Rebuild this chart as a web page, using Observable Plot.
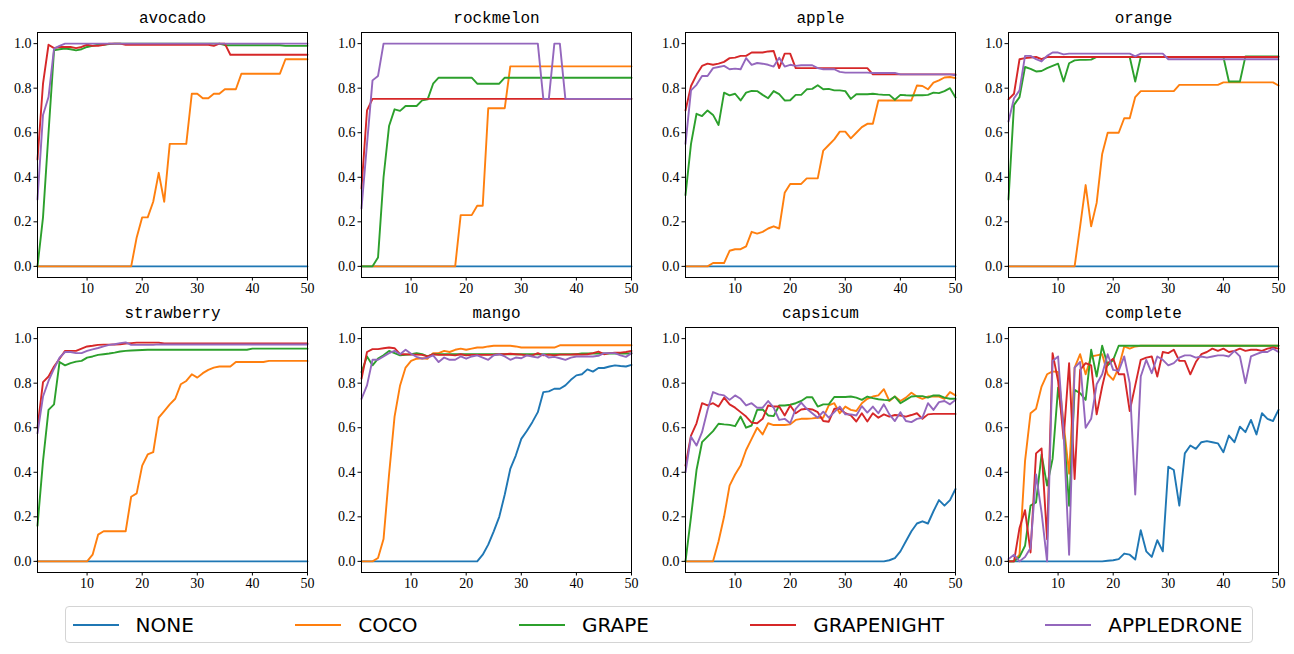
<!DOCTYPE html>
<html><head><meta charset="utf-8">
<script src="https://cdn.jsdelivr.net/npm/d3@7"></script>
<script src="https://cdn.jsdelivr.net/npm/@observablehq/plot@0.6"></script>
<style>
body{margin:0;background:#fff;width:1294px;height:654px;position:relative;overflow:hidden;}
.panel{position:absolute;}
.panel svg{overflow:visible;}
#legend{position:absolute;left:64.5px;top:606px;width:1188px;height:37px;box-sizing:border-box;border:1px solid #d4d4d4;border-radius:4px;display:flex;justify-content:space-between;align-items:center;padding:0 9px 0 7px;font-family:"DejaVu Sans";font-size:20px;color:#000;}
.item{display:flex;align-items:center;}
.sw{display:inline-block;width:46px;height:2px;margin-right:17px;}
</style></head><body>
<div id="legend"></div>
<script>
const series = ["NONE", "COCO", "GRAPE", "GRAPENIGHT", "APPLEDRONE"];
const colors = ["#1f77b4", "#ff7f0e", "#2ca02c", "#d62728", "#9467bd"];
const panelNames = ["avocado", "rockmelon", "apple", "orange", "strawberry", "mango", "capsicum", "complete"];
const xTicks = [10, 20, 30, 40, 50];
const yTicks = [0, 0.2, 0.4, 0.6, 0.8, 1.0];
const epochs = d3.range(1, 51);

const ZEROS = [0,0,0,0,0,0,0,0,0,0, 0,0,0,0,0,0,0,0,0,0, 0,0,0,0,0,0,0,0,0,0, 0,0,0,0,0,0,0,0,0,0, 0,0,0,0,0,0,0,0,0,0];

const avocado = [
  ZEROS,
  [0,0,0,0,0,0,0,0,0,0, 0,0,0,0,0,0,0,0,0.13,0.22, 0.22,0.29,0.42,0.29,0.55,0.55,0.55,0.55,0.775,0.775, 0.755,0.755,0.775,0.775,0.795,0.795,0.795,0.865,0.865,0.865, 0.865,0.865,0.865,0.865,0.865,0.93,0.93,0.93,0.93,0.93],
  [0,0.22,0.6,0.97,0.975,0.978,0.975,0.97,0.975,0.985, 0.99,0.995,0.995,0.998,1,1,1,1,1,1, 1,1,1,1,1,1,1,1,1,1, 1,1,1,1,0.993,0.993,0.993,0.993,0.993,0.993, 0.993,0.993,0.993,0.993,0.993,0.99,0.99,0.99,0.99,0.99],
  [0.48,0.82,0.995,0.98,0.985,0.985,0.985,0.98,0.985,0.995, 0.99,0.99,0.995,1,1,1,0.995,0.995,0.995,0.995, 0.995,0.995,0.995,0.995,0.995,0.995,0.995,0.995,0.995,0.995, 0.995,0.995,0.99,1,1,0.95,0.95,0.95,0.95,0.95, 0.95,0.95,0.95,0.95,0.95,0.95,0.95,0.95,0.95,0.95],
  [0.3,0.68,0.76,0.978,0.99,1,1,1,1,1, 1,1,1,1,1,1,1,1,1,1, 1,1,1,1,1,1,1,1,1,1, 1,1,1,1,1,1,1,1,1,1, 1,1,1,1,1,1,1,1,1,1]
];

const rockmelon = [
  ZEROS,
  [0,0,0,0,0,0,0,0,0,0, 0,0,0,0,0,0,0,0,0.23,0.23, 0.23,0.272,0.272,0.71,0.71,0.71,0.71,0.898,0.898,0.898, 0.898,0.898,0.898,0.898,0.898,0.898,0.898,0.898,0.898,0.898, 0.898,0.898,0.898,0.898,0.898,0.898,0.898,0.898,0.898,0.898],
  [0,0,0,0.04,0.4,0.63,0.705,0.698,0.72,0.72, 0.72,0.745,0.75,0.82,0.847,0.847,0.847,0.847,0.847,0.847, 0.847,0.82,0.82,0.82,0.82,0.82,0.847,0.847,0.847,0.847, 0.847,0.847,0.847,0.847,0.847,0.847,0.847,0.847,0.847,0.847, 0.847,0.847,0.847,0.847,0.847,0.847,0.847,0.847,0.847,0.847],
  [0.35,0.7,0.752,0.752,0.752,0.752,0.752,0.752,0.752,0.752, 0.752,0.752,0.752,0.752,0.752,0.752,0.752,0.752,0.752,0.752, 0.752,0.752,0.752,0.752,0.752,0.752,0.752,0.752,0.752,0.752, 0.752,0.752,0.752,0.752,0.752,0.752,0.752,0.752,0.752,0.752, 0.752,0.752,0.752,0.752,0.752,0.752,0.752,0.752,0.752,0.752],
  [0.26,0.55,0.835,0.855,1,1,1,1,1,1, 1,1,1,1,1,1,1,1,1,1, 1,1,1,1,1,1,1,1,1,1, 1,1,1,0.752,0.752,1,1,0.752,0.752,0.752, 0.752,0.752,0.752,0.752,0.752,0.752,0.752,0.752,0.752,0.752]
];

const apple = [
  ZEROS,
  [0,0,0,0,0,0.015,0.015,0.015,0.07,0.077, 0.077,0.09,0.155,0.147,0.155,0.17,0.18,0.17,0.33,0.37, 0.37,0.37,0.395,0.395,0.395,0.52,0.545,0.57,0.605,0.605, 0.575,0.6,0.625,0.64,0.64,0.745,0.745,0.745,0.745,0.745, 0.745,0.745,0.812,0.81,0.795,0.825,0.835,0.848,0.85,0.845],
  [0.32,0.55,0.685,0.675,0.7,0.68,0.635,0.78,0.768,0.775, 0.745,0.78,0.788,0.787,0.77,0.755,0.787,0.773,0.745,0.746, 0.77,0.77,0.795,0.797,0.813,0.795,0.797,0.79,0.79,0.787, 0.752,0.773,0.773,0.773,0.775,0.772,0.77,0.77,0.748,0.77, 0.768,0.767,0.768,0.768,0.77,0.78,0.778,0.787,0.8,0.758],
  [0.7,0.81,0.86,0.9,0.91,0.905,0.91,0.918,0.935,0.937, 0.945,0.945,0.96,0.96,0.96,0.965,0.967,0.89,0.955,0.955, 0.89,0.89,0.89,0.89,0.89,0.89,0.89,0.89,0.89,0.89, 0.89,0.89,0.89,0.89,0.862,0.862,0.862,0.862,0.862,0.862, 0.862,0.862,0.862,0.862,0.862,0.862,0.862,0.862,0.862,0.862],
  [0.55,0.79,0.815,0.855,0.855,0.89,0.895,0.9,0.885,0.888, 0.885,0.935,0.905,0.913,0.91,0.905,0.897,0.937,0.897,0.905, 0.9,0.903,0.903,0.903,0.89,0.885,0.885,0.885,0.873,0.87, 0.87,0.87,0.87,0.87,0.868,0.868,0.868,0.868,0.868,0.862, 0.862,0.862,0.862,0.862,0.862,0.862,0.862,0.862,0.862,0.858]
];

const orange = [
  ZEROS,
  [0,0,0,0,0,0,0,0,0,0, 0,0,0,0.18,0.365,0.18,0.285,0.505,0.6,0.6, 0.6,0.665,0.665,0.76,0.787,0.787,0.787,0.787,0.787,0.787, 0.787,0.815,0.815,0.815,0.815,0.815,0.815,0.815,0.815,0.826, 0.826,0.826,0.826,0.826,0.826,0.826,0.826,0.826,0.826,0.812],
  [0.3,0.725,0.76,0.895,0.887,0.875,0.877,0.89,0.9,0.91, 0.83,0.912,0.925,0.927,0.927,0.928,0.94,0.94,0.94,0.94, 0.94,0.94,0.94,0.83,0.94,0.94,0.94,0.94,0.94,0.94, 0.94,0.94,0.94,0.94,0.94,0.94,0.94,0.94,0.94,0.94, 0.83,0.83,0.83,0.943,0.943,0.943,0.943,0.943,0.943,0.943],
  [0.75,0.775,0.93,0.935,0.938,0.94,0.93,0.94,0.94,0.94, 0.94,0.94,0.94,0.94,0.94,0.94,0.94,0.94,0.94,0.94, 0.94,0.94,0.94,0.94,0.94,0.94,0.94,0.94,0.94,0.94, 0.94,0.94,0.94,0.94,0.94,0.94,0.94,0.94,0.94,0.94, 0.94,0.94,0.94,0.94,0.94,0.94,0.94,0.94,0.94,0.94],
  [0.65,0.755,0.79,0.945,0.945,0.93,0.92,0.945,0.96,0.96, 0.952,0.955,0.955,0.955,0.955,0.955,0.955,0.955,0.955,0.955, 0.955,0.955,0.955,0.943,0.955,0.955,0.955,0.955,0.955,0.93, 0.93,0.93,0.93,0.93,0.93,0.93,0.93,0.93,0.93,0.93, 0.93,0.93,0.93,0.93,0.93,0.93,0.93,0.93,0.93,0.93]
];

const strawberry = [
  ZEROS,
  [0,0,0,0,0,0,0,0,0,0, 0.03,0.12,0.135,0.135,0.135,0.135,0.135,0.29,0.305,0.43, 0.48,0.49,0.645,0.675,0.705,0.73,0.795,0.81,0.84,0.825, 0.845,0.86,0.87,0.875,0.875,0.875,0.895,0.895,0.895,0.895, 0.895,0.895,0.9,0.9,0.9,0.9,0.9,0.9,0.9,0.9],
  [0.16,0.45,0.68,0.705,0.895,0.88,0.89,0.897,0.9,0.915, 0.92,0.927,0.93,0.933,0.937,0.942,0.945,0.947,0.948,0.949, 0.95,0.95,0.95,0.95,0.95,0.95,0.95,0.95,0.95,0.95, 0.95,0.95,0.95,0.95,0.95,0.95,0.95,0.95,0.95,0.955, 0.955,0.955,0.955,0.955,0.955,0.955,0.955,0.955,0.955,0.955],
  [0.6,0.805,0.83,0.875,0.91,0.945,0.945,0.945,0.955,0.965, 0.968,0.972,0.973,0.973,0.974,0.975,0.978,0.98,0.982,0.982, 0.982,0.982,0.982,0.978,0.978,0.978,0.978,0.978,0.978,0.978, 0.978,0.978,0.978,0.978,0.978,0.978,0.978,0.978,0.978,0.978, 0.978,0.978,0.978,0.978,0.978,0.978,0.978,0.978,0.978,0.978],
  [0.575,0.74,0.81,0.865,0.915,0.94,0.94,0.935,0.935,0.945, 0.952,0.958,0.965,0.972,0.975,0.98,0.983,0.972,0.972,0.972, 0.972,0.972,0.974,0.974,0.974,0.974,0.974,0.974,0.974,0.974, 0.974,0.974,0.974,0.974,0.974,0.974,0.974,0.974,0.974,0.974, 0.974,0.974,0.974,0.974,0.974,0.974,0.974,0.974,0.974,0.974]
];

const mango = [
  [0,0,0,0,0,0,0,0,0,0, 0,0,0,0,0,0,0,0,0,0, 0,0,0.03,0.075,0.135,0.2,0.3,0.415,0.475,0.55, 0.585,0.625,0.67,0.76,0.763,0.775,0.775,0.79,0.815,0.835, 0.84,0.862,0.852,0.868,0.868,0.875,0.88,0.877,0.875,0.882],
  [0,0,0,0.015,0.1,0.39,0.65,0.79,0.87,0.9, 0.91,0.912,0.91,0.935,0.935,0.945,0.94,0.95,0.955,0.95, 0.955,0.96,0.96,0.965,0.968,0.968,0.968,0.968,0.965,0.96, 0.96,0.96,0.96,0.96,0.96,0.96,0.97,0.97,0.97,0.97, 0.97,0.97,0.97,0.97,0.97,0.97,0.97,0.97,0.97,0.97],
  [0.85,0.92,0.88,0.91,0.925,0.945,0.935,0.925,0.927,0.93, 0.935,0.93,0.92,0.93,0.93,0.93,0.93,0.93,0.93,0.93, 0.93,0.93,0.93,0.93,0.93,0.93,0.93,0.93,0.93,0.93, 0.93,0.93,0.93,0.93,0.93,0.93,0.93,0.93,0.93,0.93, 0.933,0.933,0.933,0.933,0.933,0.933,0.933,0.933,0.933,0.933],
  [0.82,0.94,0.953,0.953,0.957,0.96,0.957,0.93,0.93,0.928, 0.928,0.927,0.92,0.93,0.927,0.927,0.927,0.925,0.93,0.925, 0.927,0.927,0.927,0.927,0.928,0.93,0.93,0.932,0.93,0.928, 0.925,0.925,0.935,0.925,0.928,0.925,0.928,0.928,0.928,0.93, 0.928,0.93,0.935,0.942,0.93,0.935,0.937,0.937,0.94,0.945],
  [0.73,0.79,0.905,0.905,0.92,0.935,0.945,0.93,0.95,0.932, 0.918,0.91,0.915,0.925,0.895,0.915,0.905,0.905,0.92,0.91, 0.92,0.925,0.915,0.905,0.925,0.93,0.92,0.905,0.915,0.912, 0.925,0.92,0.915,0.93,0.915,0.918,0.912,0.905,0.915,0.92, 0.92,0.92,0.92,0.923,0.935,0.935,0.935,0.925,0.918,0.935]
];

const capsicum = [
  [0,0,0,0,0,0,0,0,0,0, 0,0,0,0,0,0,0,0,0,0, 0,0,0,0,0,0,0,0,0,0, 0,0,0,0,0,0,0,0.005,0.015,0.045, 0.09,0.135,0.17,0.18,0.17,0.225,0.275,0.25,0.275,0.325],
  [0,0,0,0,0,0,0.09,0.2,0.34,0.39, 0.43,0.5,0.55,0.6,0.57,0.62,0.612,0.612,0.612,0.615, 0.635,0.64,0.64,0.642,0.645,0.645,0.7,0.71,0.665,0.695, 0.68,0.675,0.71,0.73,0.74,0.745,0.773,0.72,0.74,0.72, 0.735,0.757,0.74,0.73,0.74,0.74,0.74,0.73,0.76,0.745],
  [0,0.2,0.41,0.535,0.56,0.585,0.618,0.615,0.613,0.607, 0.65,0.6,0.61,0.68,0.682,0.655,0.652,0.7,0.7,0.703, 0.71,0.72,0.737,0.737,0.695,0.705,0.705,0.738,0.738,0.738, 0.74,0.735,0.725,0.74,0.733,0.728,0.725,0.723,0.74,0.71, 0.725,0.74,0.742,0.742,0.735,0.745,0.745,0.735,0.73,0.73],
  [0.43,0.565,0.62,0.71,0.7,0.71,0.695,0.735,0.705,0.69, 0.67,0.65,0.623,0.62,0.64,0.7,0.695,0.695,0.655,0.7, 0.665,0.682,0.685,0.682,0.67,0.63,0.627,0.685,0.685,0.665, 0.655,0.628,0.665,0.628,0.665,0.645,0.66,0.65,0.657,0.655, 0.65,0.657,0.665,0.64,0.66,0.662,0.662,0.662,0.662,0.662],
  [0.4,0.56,0.52,0.58,0.68,0.76,0.75,0.745,0.725,0.745, 0.73,0.7,0.71,0.69,0.69,0.72,0.69,0.635,0.64,0.62, 0.685,0.713,0.685,0.665,0.645,0.672,0.645,0.67,0.695,0.66, 0.66,0.655,0.697,0.668,0.695,0.665,0.705,0.66,0.63,0.67, 0.63,0.625,0.64,0.645,0.71,0.68,0.715,0.72,0.705,0.725]
];

const complete = [
  [0,0,0,0,0,0,0,0,0,0, 0,0,0,0,0,0,0,0,0.003,0.005, 0.01,0.035,0.03,0.008,0.14,0.045,0.02,0.095,0.045,0.425, 0.41,0.25,0.485,0.52,0.505,0.535,0.54,0.535,0.53,0.49, 0.565,0.535,0.605,0.58,0.635,0.57,0.665,0.64,0.63,0.68],
  [0,0,0.03,0.45,0.665,0.685,0.785,0.84,0.853,0.85, 0.62,0.394,0.87,0.93,0.84,0.92,0.925,0.93,0.84,0.815, 0.87,0.965,0.955,0.965,0.968,0.968,0.968,0.968,0.968,0.968, 0.968,0.968,0.968,0.968,0.968,0.968,0.968,0.968,0.968,0.968, 0.968,0.968,0.968,0.968,0.968,0.968,0.968,0.968,0.968,0.968],
  [0,0,0.02,0.07,0.25,0.265,0.48,0.34,0.46,0.78, 0.6,0.25,0.77,0.755,0.725,0.95,0.83,0.968,0.88,0.905, 0.968,0.968,0.968,0.968,0.968,0.968,0.968,0.968,0.968,0.968, 0.968,0.968,0.968,0.968,0.968,0.968,0.968,0.968,0.968,0.968, 0.968,0.968,0.968,0.968,0.968,0.968,0.968,0.968,0.968,0.968],
  [0,0,0.15,0.23,0.04,0.485,0.507,0.1,0.935,0.81, 0.55,0.89,0.37,0.86,0.89,0.88,0.66,0.785,0.89,0.91, 0.84,0.84,0.675,0.79,0.905,0.915,0.92,0.83,0.94,0.935, 0.95,0.9,0.9,0.84,0.895,0.93,0.94,0.955,0.945,0.955, 0.94,0.945,0.955,0.945,0.95,0.95,0.945,0.955,0.96,0.955],
  [0.01,0.03,0,0.02,0.06,0.39,0.22,0,0.9,0.92, 0.58,0.03,0.87,0.895,0.6,0.64,0.795,0.84,0.93,0.86, 0.855,0.92,0.8,0.3,0.83,0.905,0.845,0.92,0.905,0.88, 0.89,0.915,0.925,0.925,0.915,0.92,0.915,0.92,0.925,0.925, 0.92,0.945,0.92,0.8,0.92,0.93,0.94,0.94,0.955,0.94]
];

const panels = [avocado, rockmelon, apple, orange, strawberry, mango, capsicum, complete];
const colLeft = [0, 324, 647.5, 971];
const rowTop = [0, 294.7];
const tickFont = "'Liberation Serif', 'Times New Roman', Times, 'DejaVu Serif', serif";
const titleFont = "'Liberation Mono', 'Courier New', Courier, 'DejaVu Sans Mono', monospace";

function makePanel(name, values) {
  const data = [];
  series.forEach((s, i) => values[i].forEach((v, j) => data.push({epoch: epochs[j], value: v, series: s})));
  const svg = Plot.plot({
    width: 323, height: 294,
    marginLeft: 37, marginRight: 16, marginTop: 32, marginBottom: 17,
    x: {domain: [1, 50]},
    y: {domain: [-0.05, 1.05]},
    color: {domain: series, range: colors},
    marks: [
      Plot.lineY(data, {x: "epoch", y: "value", z: "series", stroke: "series", strokeWidth: 1.9}),
      Plot.frame({stroke: "black", strokeWidth: 1}),
      Plot.axisX({ticks: xTicks, tickSize: 3.5, tickPadding: 2, label: null, fontSize: 14}),
      Plot.axisY({ticks: yTicks, tickSize: 3.5, tickPadding: 2.5, label: null, fontSize: 14, tickFormat: d3.format(".1f")}),
      Plot.text([name], {text: d => d, frameAnchor: "top", dy: -15, lineAnchor: "middle", fontSize: 16, fill: "black"})
    ]
  });
  svg.style.overflow = "visible";
  svg.style.background = "transparent";
  svg.style.color = "black";
  svg.setAttribute("font-family", tickFont);
  svg.querySelectorAll("text").forEach(t => {
    t.setAttribute("font-family", tickFont);
    t.style.fontFamily = tickFont;
  });
  const title = svg.querySelector('g[aria-label="text"] text');
  if (title) { title.setAttribute("font-family", titleFont); title.style.fontFamily = titleFont; }
  return svg;
}

panels.forEach((vals, k) => {
  const div = document.createElement("div");
  div.className = "panel";
  div.style.left = colLeft[k % 4] + "px";
  div.style.top = rowTop[Math.floor(k / 4)] + "px";
  div.appendChild(makePanel(panelNames[k], vals));
  document.body.appendChild(div);
});

const legend = document.getElementById("legend");
series.forEach((s, i) => {
  const item = document.createElement("div");
  item.className = "item";
  const sw = document.createElement("span");
  sw.className = "sw";
  sw.style.background = colors[i];
  const t = document.createElement("span");
  t.textContent = s;
  item.appendChild(sw);
  item.appendChild(t);
  legend.appendChild(item);
});
</script></body></html>
